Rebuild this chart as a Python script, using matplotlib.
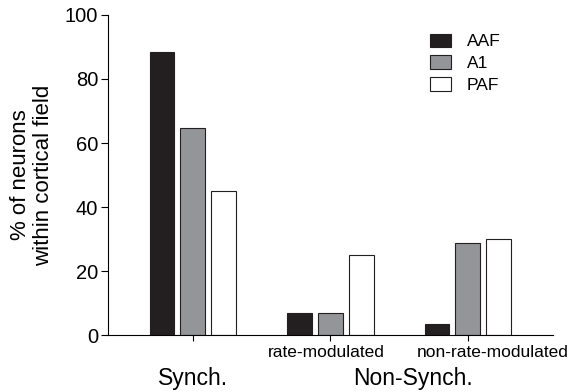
import numpy as np
import matplotlib.pyplot as plt

plt.rcParams['font.family'] = ['Liberation Sans', 'DejaVu Sans']

fields = ['AAF', 'A1', 'PAF']
groups = ['', 'rate-modulated', 'non-rate-modulated']
values = {
    'AAF': [88.5, 7.0, 3.5],
    'A1': [64.6, 6.8, 28.8],
    'PAF': [45.0, 25.0, 30.0],
}
colors = {'AAF': '#231f20', 'A1': '#939598', 'PAF': 'white'}

fig = plt.figure(figsize=(5.74, 3.92), dpi=100)
ax = fig.add_axes([0.188, 0.145, 0.775, 0.817])

x = np.arange(len(groups))
width = 0.18
step = 0.225
for i, f in enumerate(fields):
    ax.bar(x + (i - 1) * step, values[f], width, color=colors[f],
           edgecolor='#231f20', linewidth=0.8, label=f)

ax.set_xlim(-0.618, 2.618)
ax.set_ylim(0, 100)
ax.set_yticks([0, 20, 40, 60, 80, 100])
ax.set_xticks(x)
ax.set_xticklabels([''] * len(groups))
ax.tick_params(axis='y', labelsize=14.5, length=5, direction='out', pad=2)
ax.tick_params(axis='x', length=4, direction='out')
ax.spines['top'].set_visible(False)
ax.spines['right'].set_visible(False)
ax.set_ylabel('% of neurons\nwithin cortical field', fontsize=16, labelpad=8,
              linespacing=1.1)

# group labels sit slightly off their ticks, as in the original figure
label_shift = [0, -0.03, 0.18]
trans = ax.get_xaxis_transform()
for xi, g, s in zip(x, groups, label_shift):
    ax.text(xi + s, -0.055, g, transform=trans, ha='center', va='center',
            fontsize=12.5)

ax.text(0, -0.135, 'Synch.', transform=trans,
        ha='center', va='center', fontsize=16.5)
ax.text(1.6, -0.135, 'Non-Synch.', transform=trans,
        ha='center', va='center', fontsize=16.5)

ax.legend(loc='upper left', bbox_to_anchor=(0.69, 0.99), frameon=False,
          fontsize=12.5, handlelength=1.2, handleheight=0.8, labelspacing=0.35,
          handletextpad=0.9)

fig.savefig('out.png', dpi=100)
